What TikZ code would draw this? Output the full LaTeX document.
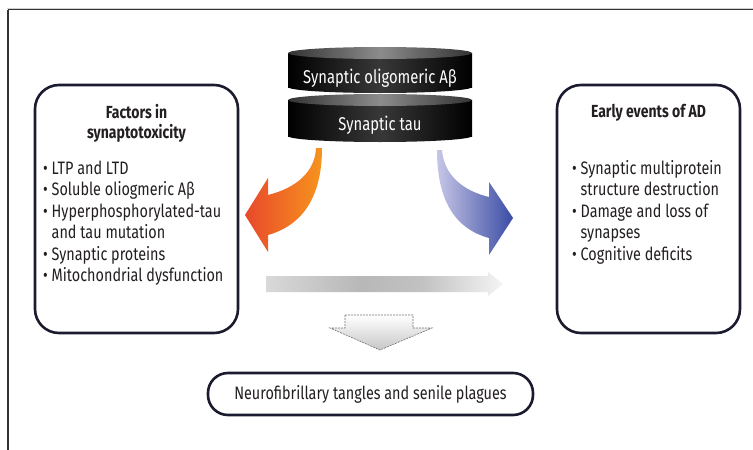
\documentclass[tikz,border=0pt]{standalone}
\usepackage{fontspec}
\setmainfont{Fira Sans}[FakeStretch=0.8]
\usetikzlibrary{shapes.geometric}

\definecolor{ink}{HTML}{231F20}
\definecolor{boxline}{HTML}{1B1B2F}
\definecolor{orangeL}{HTML}{E8492A}
\definecolor{orangeR}{HTML}{F7941E}
\definecolor{blueL}{HTML}{C6C6E6}
\definecolor{blueR}{HTML}{3A4CA5}

% shadings for the two stacked disks and the grey timeline arrow
\pgfdeclarehorizontalshading{cylbody}{100bp}{color(0bp)=(black); color(25bp)=(black); color(50bp)=(black!78!white); color(75bp)=(black); color(100bp)=(black)}
\pgfdeclarehorizontalshading{cyltop}{100bp}{color(0bp)=(black!80!white); color(25bp)=(black!80!white); color(50bp)=(black!45!white); color(75bp)=(black!80!white); color(100bp)=(black!80!white)}
\pgfdeclarehorizontalshading{timeline}{100bp}{color(0bp)=(black!15!white); color(25bp)=(black!15!white); color(45bp)=(black!28!white); color(58bp)=(black!24!white); color(75bp)=(black!4!white); color(100bp)=(black!4!white)}

\newcommand\bodyfont{\fontsize{18}{21.5}\selectfont}
\newcommand\headfont{\fontsize{17.5}{20}\selectfont\bfseries}

\tikzset{
  roundbox/.style={draw=boxline, line width=2.6pt, rounded corners=24pt, fill=white},
  headtext/.style={font=\headfont, text=ink, align=center, inner sep=0pt},
  listtext/.style={font=\bodyfont, text=ink, align=left, inner sep=0pt, anchor=north west},
  disktext/.style={font=\fontsize{18.5}{22}\selectfont, text=white, inner sep=0pt},
}

\begin{document}
\begin{tikzpicture}[x=1pt,y=-1pt]
\useasboundingbox (0,0) rectangle (753,450);
\fill[white] (0,0) rectangle (753,450);

% page frame
\draw[black!18, line width=1pt] (7,8) -- (753,8);
\draw[black!80, line width=1.3pt] (8,9.5) -- (753,9.5);
\draw[black!80, line width=1.3pt] (8,9.5) -- (8,450);

% stacked disks
\shade[shading=cylbody] (288,53) rectangle (472,87);
\shade[shading=cylbody] (380,87) ellipse [x radius=92pt, y radius=6pt];
\shade[shading=cyltop] (380,53) ellipse [x radius=92pt, y radius=6pt];
\node[disktext] (abeta) at (380,78) {Synaptic oligomeric Aβ};

\shade[shading=cylbody] (288,100) rectangle (472,136);
\shade[shading=cylbody] (380,136) ellipse [x radius=92pt, y radius=6pt];
\shade[shading=cyltop] (380,100) ellipse [x radius=92pt, y radius=6pt];
\node[disktext] (tau) at (380,125) {Synaptic tau};

% left box
\node[roundbox, minimum width=203pt, minimum height=248pt] (factors) at (136.5,209) {};
\node[headtext] (factorsT) at (136.5,123) {Factors in\\synaptotoxicity};
\node[listtext] (factorsL) at (43,160.5) {\textbullet\ LTP and LTD\\
\textbullet\ Soluble oliogmeric Aβ\\
\textbullet\ Hyperphosphorylated-tau\\
\phantom{\textbullet\ }and tau mutation\\
\textbullet\ Synaptic proteins\\
\textbullet\ Mitochondrial dysfunction};

% right box
\node[roundbox, minimum width=183pt, minimum height=248pt] (early) at (648.5,209) {};
\node[headtext] (earlyT) at (648.5,113) {Early events of AD};
\node[listtext] (earlyL) at (572,160) {\textbullet\ Synaptic multiprotein\\
\phantom{\textbullet\ }structure destruction\\
\textbullet\ Damage and loss of\\
\phantom{\textbullet\ }synapses\\
\textbullet\ Cognitive deficits};

% curved arrows from the disks
\shade[left color=orangeL, right color=orangeR]
  (322,148) .. controls (322,200) and (300,226) .. (268,235)
  -- (268,252) -- (245,215) -- (268,178) -- (268,195)
  .. controls (296,188) and (315,172) .. (316,148) -- cycle;
\shade[left color=blueL, right color=blueR]
  (442,150) .. controls (444,176) and (464,191) .. (489,197)
  -- (489,182) -- (513,218) -- (489,255) -- (489,238)
  .. controls (456,229) and (437,202) .. (437,150) -- cycle;

% timeline arrow
\shade[shading=timeline]
  (266,276) -- (488,276) -- (488,272) -- (503,284) -- (488,296) -- (488,292) -- (266,292) -- cycle;

% dashed down arrow
\shade[top color=white, bottom color=black!22!white]
  (345,315) -- (413,315) -- (413,328) -- (432,328) -- (380,350) -- (330,328) -- (345,328) -- cycle;
\draw[black!55, dashed, dash pattern=on 2pt off 1pt, line width=0.6pt]
  (345,315) -- (413,315) -- (413,328) -- (432,328) -- (380,350) -- (330,328) -- (345,328) -- cycle;

% outcome
\node[draw=boxline, line width=2.6pt, rounded corners=20pt, minimum width=325pt, minimum height=42pt,
      font=\bodyfont, text=ink] (outcome) at (370.5,394) {Neurofibrillary tangles and senile plagues};
\end{tikzpicture}
\end{document}
